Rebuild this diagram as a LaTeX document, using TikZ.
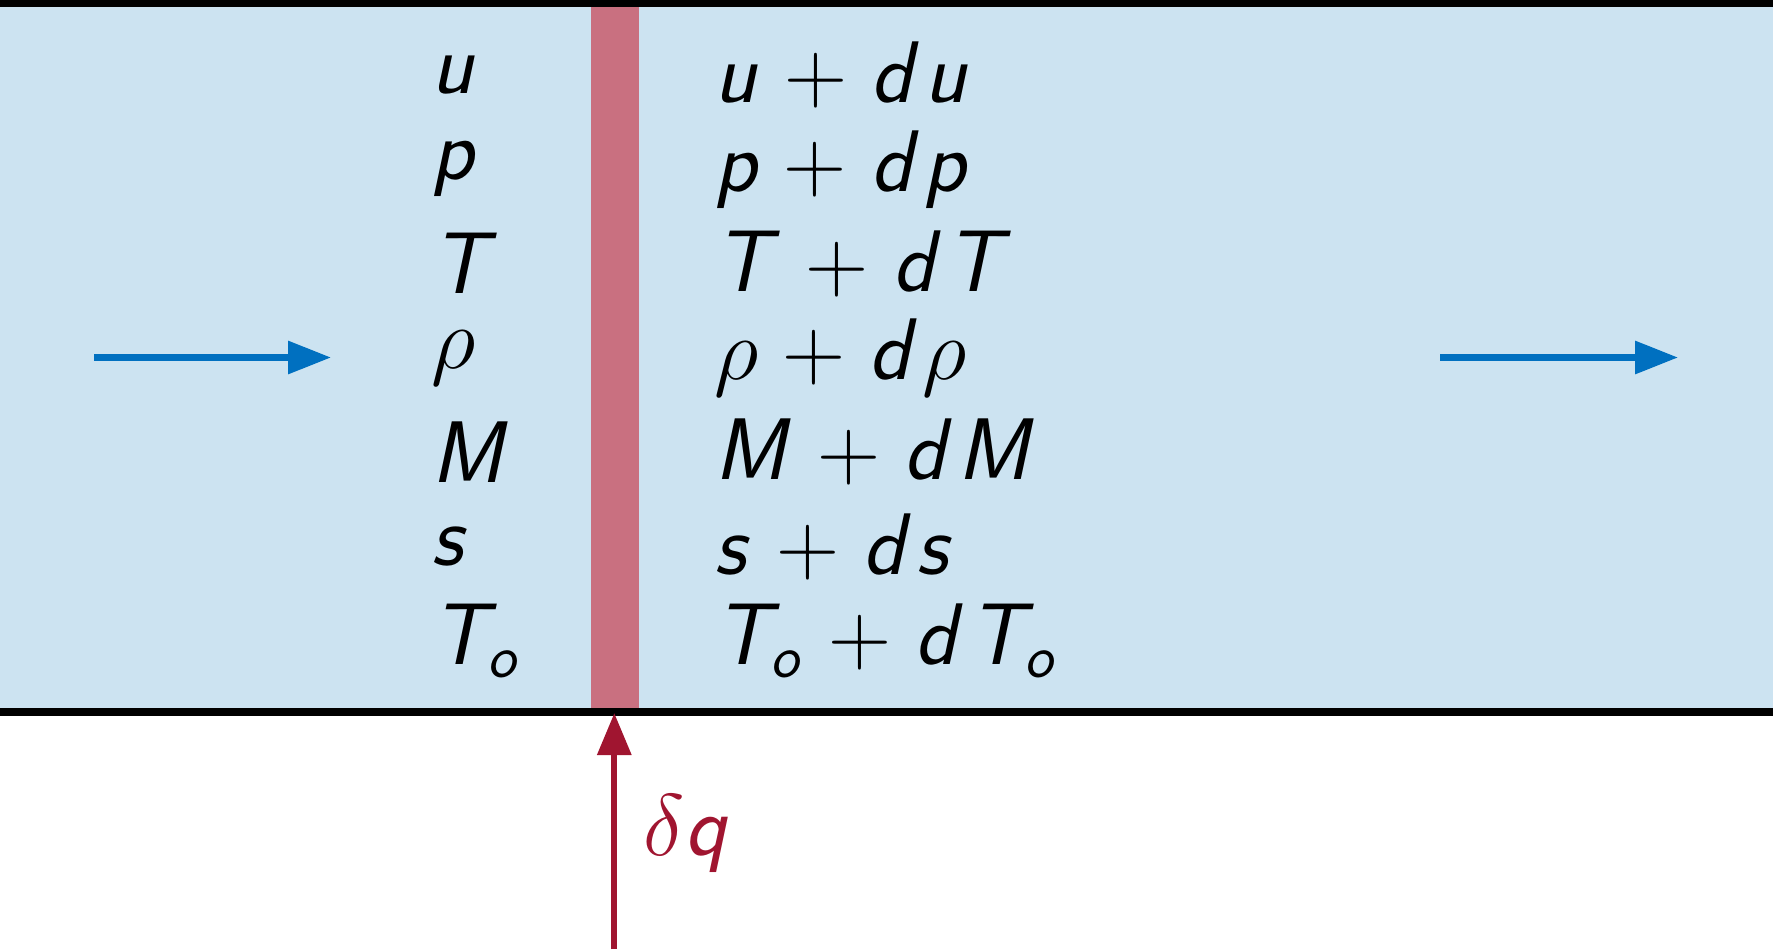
\documentclass[tikz,border=0pt]{standalone}
\usepackage{tikz}
\usetikzlibrary{arrows.meta}
\usetikzlibrary{positioning}

% sans oblique letters in math, Greek stays from the math italic font
\DeclareSymbolFont{sfit}{OT1}{cmss}{m}{sl}
\DeclareMathSymbol{u}{\mathalpha}{sfit}{`u}
\DeclareMathSymbol{p}{\mathalpha}{sfit}{`p}
\DeclareMathSymbol{T}{\mathalpha}{sfit}{`T}
\DeclareMathSymbol{M}{\mathalpha}{sfit}{`M}
\DeclareMathSymbol{s}{\mathalpha}{sfit}{`s}
\DeclareMathSymbol{d}{\mathalpha}{sfit}{`d}
\DeclareMathSymbol{o}{\mathalpha}{sfit}{`o}
\DeclareMathSymbol{q}{\mathalpha}{sfit}{`q}
\newcommand\dd{d\mkern0.6mu}
\newcommand\eqn[1]{$\medmuskip=4.8mu #1$}

\definecolor{pipefill}{RGB}{204,227,241}
\definecolor{heatband}{RGB}{201,112,128}
\definecolor{heatred}{RGB}{160,21,48}
\definecolor{flowblue}{RGB}{0,112,192}

\tikzset{
  var/.style = {inner sep=0pt, anchor=west, font=\fontsize{23.5}{28}\selectfont},
  flow/.style = {draw=flowblue, line width=1.8pt, -{Stealth[length=4.3mm, width=3.2mm, inset=0pt]}},
  heat/.style = {draw=heatred, line width=1.8pt, -{Stealth[length=4.2mm, width=3.3mm, inset=0pt]}}
}

\begin{document}
\begin{tikzpicture}
        \useasboundingbox (0,0) rectangle (17.73,9.49);
        \fill[pipefill] (0,2.37) rectangle (17.73,9.46);
        \fill[heatband] (5.91,2.37) rectangle (6.385,9.46);
        \draw[line width = 2.1pt] (0,9.46) -- (17.73,9.46);
        \draw[line width = 2.1pt] (0,2.37) -- (17.73,2.37);
        \foreach \lhs/\rhs [count=\i from 0] in {u/u+\dd u, p/p+\dd p, T/T+\dd T, \rho/\rho+\dd\rho, M/M+\dd M, s/s+\dd s, T_o/T_o+\dd T_o}{
            \node[var] (in\i) at (4.31, 8.74-0.943*\i) {\eqn{\lhs}};
            \node[var] (out\i) at (7.14, 8.74-0.943*\i) {\eqn{\rhs}};
          }
        \coordinate (inA) at (0.94,5.915);
        \coordinate (inB) at (3.31,5.915);
        \coordinate (outA) at (14.40,5.915);
        \coordinate (outB) at (16.78,5.915);
        \draw[flow] (inA) -- (inB);
        \draw[flow] (outA) -- (outB);
        \coordinate (qA) at (6.143,0);
        \coordinate (qB) at (6.143,2.36);
        \draw[heat] (qA) -- (qB);
        \node[var, text=heatred] (dq) at (6.43,1.15) {\eqn{\delta q}};
      \end{tikzpicture}
\end{document}
